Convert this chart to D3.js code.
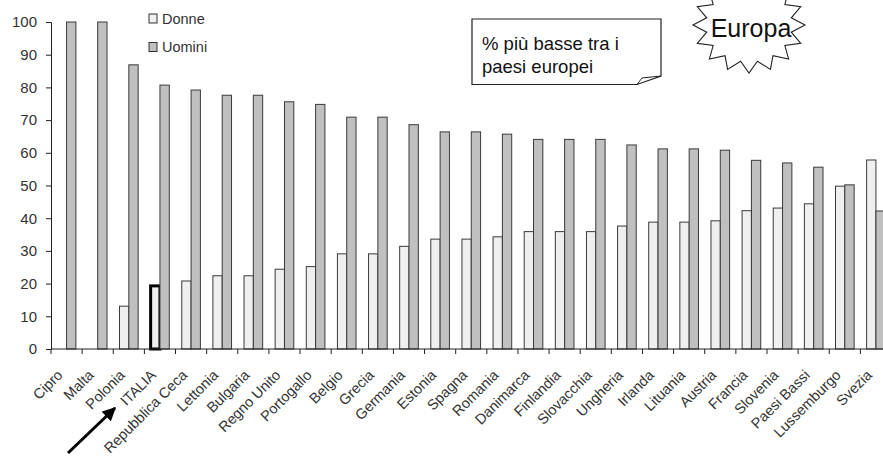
<!DOCTYPE html>
<html>
<head>
<meta charset="utf-8">
<script src="https://cdn.jsdelivr.net/npm/d3@7"></script>
<style>
    body { margin: 0; background: #fff; }
    text { font-family: Arial, "Liberation Sans", sans-serif; }
</style>
</head>
<body>
<div id="chart"></div>
<script>
// dati
var paesi = ["Cipro", "Malta", "Polonia", "ITALIA", "Repubblica Ceca", "Lettonia", "Bulgaria",
    "Regno Unito", "Portogallo", "Belgio", "Grecia", "Germania", "Estonia", "Spagna", "Romania",
    "Danimarca", "Finlandia", "Slovacchia", "Ungheria", "Irlanda", "Lituania", "Austria",
    "Francia", "Slovenia", "Paesi Bassi", "Lussemburgo", "Svezia"];
var donne = [0, 0, 13.1, 19.3, 20.8, 22.4, 22.4, 24.4, 25.2, 29.1, 29.1, 31.4, 33.6, 33.6, 34.3,
    35.9, 35.9, 35.9, 37.6, 38.8, 38.8, 39.2, 42.3, 43.1, 44.4, 49.8, 57.8];
var uomini = [100, 100, 86.9, 80.7, 79.2, 77.6, 77.6, 75.6, 74.8, 70.9, 70.9, 68.6, 66.4, 66.4, 65.7,
    64.1, 64.1, 64.1, 62.4, 61.2, 61.2, 60.8, 57.7, 56.9, 55.6, 50.2, 42.2];
var serie = ["Donne", "Uomini"];
var yTicks = [0, 10, 20, 30, 40, 50, 60, 70, 80, 90, 100];

var width = 883, height = 460;
var margin = {left: 51, top: 22, bottom: 111};
var colori = {Donne: "#efefef", Uomini: "#c0c0c0"};

var svg = d3.select("#chart").append("svg")
    .attr("width", width)
    .attr("height", height);

var x = d3.scaleBand()
    .domain(paesi)
    .range([margin.left, margin.left + 27 * 31.13]);

var x1 = d3.scaleBand()
    .domain(serie)
    .range([0, x.bandwidth()])
    .paddingOuter(0.67);

var y = d3.scaleLinear()
    .domain([0, 100])
    .range([height - margin.bottom, margin.top]);

// barre
var gruppi = svg.append("g").selectAll("g")
    .data(paesi)
    .enter().append("g")
    .attr("transform", function (d) { return "translate(" + x(d) + ",0)"; });

gruppi.selectAll("rect")
    .data(function (d, i) {
        return [{s: "Donne", v: donne[i], p: d}, {s: "Uomini", v: uomini[i], p: d}];
    })
    .enter().append("rect")
    .filter(function (d) { return d.v > 0; })
    .attr("x", function (d) { return x1(d.s); })
    .attr("y", function (d) { return y(d.v); })
    .attr("width", x1.bandwidth())
    .attr("height", function (d) { return y(0) - y(d.v); })
    .style("fill", function (d) { return colori[d.s]; })
    .style("stroke", function (d) { return (d.p == "ITALIA" && d.s == "Donne") ? "#000" : "#3a3a3a"; })
    .style("stroke-width", function (d) { return (d.p == "ITALIA" && d.s == "Donne") ? 3 : 1; });

// asse y
var yAxis = svg.append("g")
    .attr("transform", "translate(" + margin.left + ",0)")
    .call(d3.axisLeft(y).tickValues(yTicks).tickSize(5).tickPadding(9));
yAxis.select(".domain").attr("stroke", "#222");
yAxis.selectAll(".tick line").attr("stroke", "#222");
yAxis.selectAll("text").style("font-size", "15px").attr("fill", "#333");

// asse x
var xAxis = svg.append("g")
    .attr("transform", "translate(0," + y(0) + ")");
xAxis.append("line")
    .attr("x1", margin.left).attr("x2", width)
    .attr("stroke", "#222");
xAxis.selectAll(".tk")
    .data(paesi)
    .enter().append("line")
    .attr("class", "tk")
    .attr("x1", function (d) { return x(d); })
    .attr("x2", function (d) { return x(d); })
    .attr("y1", 0).attr("y2", 5)
    .attr("stroke", "#222");
xAxis.selectAll(".lab")
    .data(paesi)
    .enter().append("text")
    .attr("class", "lab")
    .attr("transform", function (d) {
        return "translate(" + (x(d) + x.bandwidth() / 2 - 3) + ",27) rotate(-45)";
    })
    .attr("text-anchor", "end")
    .style("font-size", "14.5px")
    .attr("fill", "#333")
    .text(function (d) { return d; });

// legenda
var leg = svg.append("g").selectAll("g")
    .data(serie)
    .enter().append("g")
    .attr("transform", function (d, i) { return "translate(149," + (14 + i * 28.5) + ")"; });
leg.append("rect")
    .attr("width", 8).attr("height", 9)
    .style("fill", function (d) { return colori[d]; })
    .style("stroke", "#333");
leg.append("text")
    .attr("x", 13).attr("y", 9.5)
    .style("font-size", "14.5px")
    .attr("fill", "#333")
    .text(function (d) { return d; });

// riquadro nota con angolo piegato
svg.append("path")
    .attr("d", "M472,19 L661,19 L661,76 L637,84.5 L472,84.5 Z")
    .style("fill", "#fff").style("stroke", "#222").style("stroke-width", 1.2);
svg.append("path")
    .attr("d", "M637,84.5 L642,78 L661,76")
    .style("fill", "none").style("stroke", "#222").style("stroke-width", 1);
svg.append("text")
    .attr("x", 482).attr("y", 50)
    .style("font-size", "18.5px").attr("fill", "#111")
    .text("% più basse tra i");
svg.append("text")
    .attr("x", 482).attr("y", 73)
    .style("font-size", "18.5px").attr("fill", "#111")
    .text("paesi europei");

// stella "Europa"
var cx = 749, cy = 25, punte = 16;
var stella = d3.range(punte * 2).map(function (k) {
    var a = Math.PI * k / punte;
    var f = (k % 2 == 0) ? 1 : 0.77;
    return [cx + Math.cos(a) * 56 * f, cy + Math.sin(a) * 48 * f];
});
svg.append("path")
    .attr("d", d3.line()(stella) + "Z")
    .style("fill", "#fff").style("stroke", "#222").style("stroke-width", 1.1);
svg.append("text")
    .attr("x", 751).attr("y", 37)
    .attr("text-anchor", "middle")
    .style("font-size", "25px").attr("fill", "#111")
    .text("Europa");

// freccia verso l'Italia
svg.append("defs").append("marker")
    .attr("id", "punta")
    .attr("viewBox", "0 0 10 10")
    .attr("refX", 9).attr("refY", 5)
    .attr("markerWidth", 4.5).attr("markerHeight", 4.5)
    .attr("orient", "auto")
    .append("path")
    .attr("d", "M0,0 L10,5 L0,10 Z")
    .attr("fill", "#000");
svg.append("line")
    .attr("x1", 68).attr("y1", 453)
    .attr("x2", 115).attr("y2", 408)
    .attr("stroke", "#000")
    .attr("stroke-width", 3)
    .attr("marker-end", "url(#punta)");
</script>
</body>
</html>
